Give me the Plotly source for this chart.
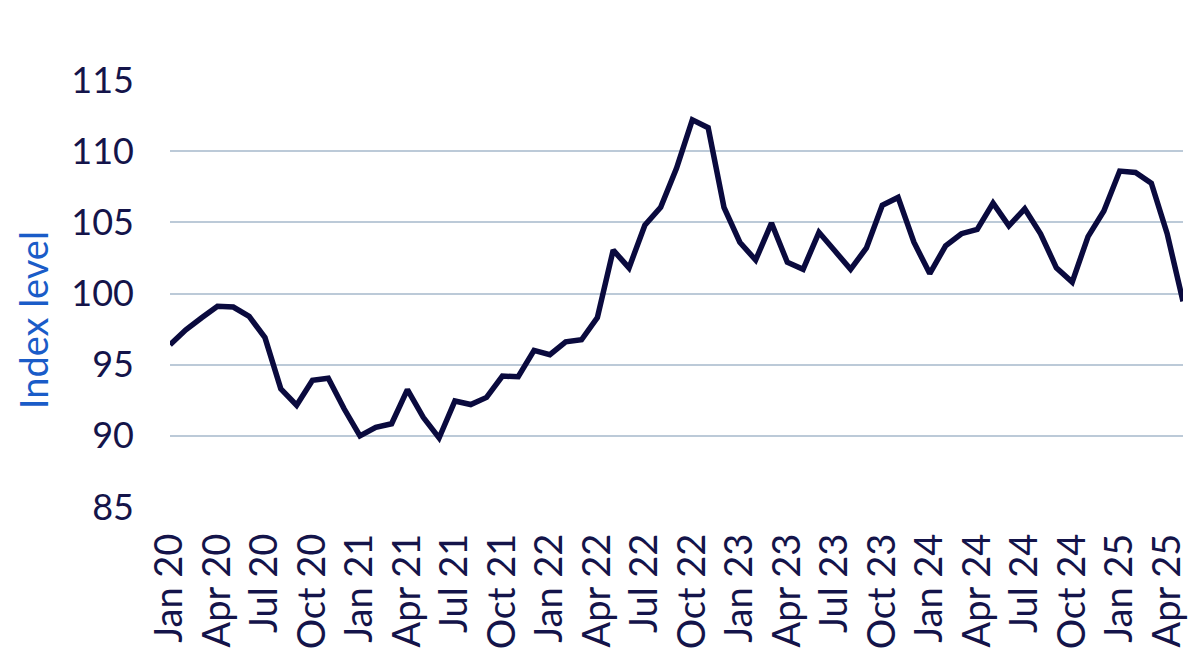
import plotly.graph_objects as go

months = ["Jan", "Feb", "Mar", "Apr", "May", "Jun", "Jul", "Aug", "Sep", "Oct", "Nov", "Dec"]
labels = [f"{months[i % 12]} {20 + i // 12}" for i in range(65)]

values = [
    96.4, 97.45, 98.3, 99.1, 99.05, 98.4, 96.9, 93.3, 92.15, 93.9, 94.05, 91.9,
    90.0, 90.6, 90.85, 93.25, 91.3, 89.85, 92.45, 92.2, 92.7, 94.2, 94.15, 96.0,
    95.7, 96.6, 96.75, 98.3, 103.05, 101.8, 104.8, 106.05, 108.8, 112.2, 111.65, 106.05,
    103.6, 102.35, 104.95, 102.2, 101.7, 104.3, 103.0, 101.7, 103.2, 106.2, 106.75, 103.6,
    101.4, 103.35, 104.2, 104.5, 106.35, 104.75, 105.95, 104.2, 101.8, 100.8, 104.0, 105.8,
    108.6, 108.5, 107.75, 104.2, 99.45,
]

tick_idx = list(range(0, 65, 3))
tick_text = [labels[i] for i in tick_idx]
y_ticks = [85, 90, 95, 100, 105, 110, 115]

x = list(range(len(values)))

fig = go.Figure()
fig.add_trace(go.Scatter(
    x=x, y=values, mode="lines",
    line=dict(color="#0a0a3e", width=5.5),
    hoverinfo="skip", showlegend=False,
))

font_family = "Lato, 'Open Sans', sans-serif"
fig.update_layout(
    width=1192, height=657,
    margin=dict(l=162, r=17, t=72, b=158),
    paper_bgcolor="white", plot_bgcolor="white",
    font=dict(family=font_family, color="#14144a", size=36),
    xaxis=dict(
        range=[0, 64], tickmode="array", tickvals=tick_idx, ticktext=tick_text,
        tickangle=-90, showgrid=False, zeroline=False, showline=False,
        ticks="", tickfont=dict(size=38, color="#14144a"), ticklabelstandoff=18,
    ),
    yaxis=dict(
        range=[85, 115], tickmode="array", tickvals=y_ticks,
        showgrid=True, gridcolor="#bccad8", gridwidth=1.5, zeroline=False,
        showline=False, ticks="", tickfont=dict(size=36, color="#14144a"),
        ticklabelstandoff=35,
    ),
    annotations=[dict(
        text="Index level", textangle=-90, showarrow=False,
        xref="paper", yref="paper", x=-0.1345, y=0.437,
        xanchor="center", yanchor="middle",
        font=dict(size=38, color="#1a5cc8", family=font_family),
    )],
)

fig.write_html("out.html")
